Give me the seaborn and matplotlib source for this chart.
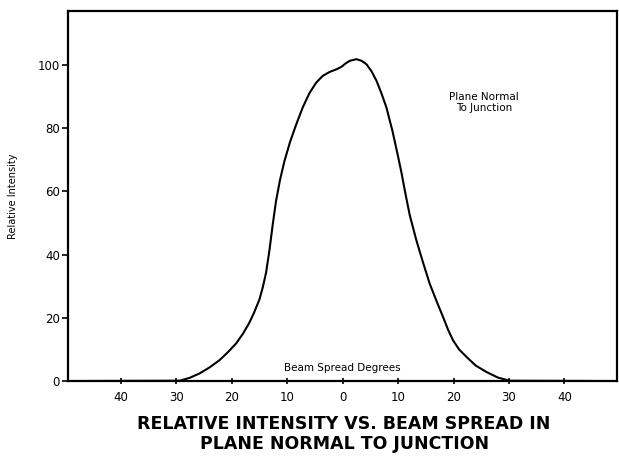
import numpy as np
import pandas as pd
import matplotlib
matplotlib.use("Agg")
import matplotlib.pyplot as plt
import seaborn as sns

# beam angle (deg, signed) and relative intensity
angle = [-49.5, -29.4, -27.6, -25.8, -24.0, -22.2, -20.7, -19.2, -18.0, -16.8,
         -16.0, -15.0, -14.4, -13.8, -13.2, -12.6,
         -12.0, -11.3, -10.5, -9.5, -8.4, -7.2, -6.0, -4.8, -3.6, -2.3,
         -1.1, -0.2, 0.5, 1.3, 2.5, 3.4, 4.3, 5.2, 6.1, 7.0,
         7.9, 9.0, 10.0, 10.6, 11.3, 12.1, 13.3, 14.5, 15.7, 17.0,
         18.1, 19.0, 19.9, 21.0, 22.3, 24.0, 25.9, 28.0, 30.1, 49.5]
intensity = [0.0, 0.1, 1.0, 2.4, 4.3, 6.6, 9.1, 11.9, 14.9, 18.5,
             21.5, 25.8, 29.6, 34.3, 41.3, 49.5,
             57.0, 63.5, 69.5, 75.5, 81.0, 86.5, 91.0, 94.3, 96.5, 97.8,
             98.6, 99.4, 100.4, 101.3, 101.8, 101.3, 100.2, 98.0, 95.0, 91.0,
             86.5, 79.0, 71.0, 66.0, 59.5, 52.5, 44.5, 37.5, 30.8, 25.0,
             20.3, 16.3, 12.9, 10.0, 7.7, 4.9, 2.9, 1.1, 0.1, 0.0]

x_ticks = [-40, -30, -20, -10, 0, 10, 20, 30, 40]
x_ticklabels = ["40", "30", "20", "10", "0", "10", "20", "30", "40"]
y_ticks = [0, 20, 40, 60, 80, 100]

df = pd.DataFrame({"angle": angle, "intensity": intensity})

sns.set_style("white")
plt.rcParams["font.family"] = ["DejaVu Sans"]
plt.rcParams["text.color"] = "black"
plt.rcParams["xtick.color"] = "black"
plt.rcParams["ytick.color"] = "black"
plt.rcParams["axes.labelcolor"] = "black"

fig = plt.figure(figsize=(6.19, 4.63), dpi=100)
ax = fig.add_axes([0.110, 0.177, 0.887, 0.799])

sns.lineplot(data=df, x="angle", y="intensity", color="black", linewidth=1.5, ax=ax)

ax.set_xlim(-49.5, 49.5)
ax.set_ylim(0, 117)
ax.set_xticks(x_ticks)
ax.set_xticklabels(x_ticklabels)
ax.set_yticks(y_ticks)
ax.tick_params(axis="both", labelsize=8.5, length=5, width=1.2, color="black",
               bottom=True, left=True, pad=2)
ax.tick_params(axis="x", direction="inout", pad=5)
ax.tick_params(axis="y", direction="out", length=4)
for s in ax.spines.values():
    s.set_color("black")
    s.set_linewidth(1.6)
ax.set_xlabel("")
ax.set_ylabel("Relative Intensity", fontsize=7, labelpad=14)

ax.text(0, 2.5, "Beam Spread Degrees", ha="center", va="bottom", fontsize=7.5)
ax.text(25.5, 88, "Plane Normal\nTo Junction", ha="center", va="center",
        fontsize=7.5, linespacing=1.1)

fig.text(0.556, 0.022, "RELATIVE INTENSITY VS. BEAM SPREAD IN\nPLANE NORMAL TO JUNCTION",
         ha="center", va="bottom", fontsize=12.5, fontweight="bold", linespacing=1.15)

fig.savefig("out.png", dpi=100)
